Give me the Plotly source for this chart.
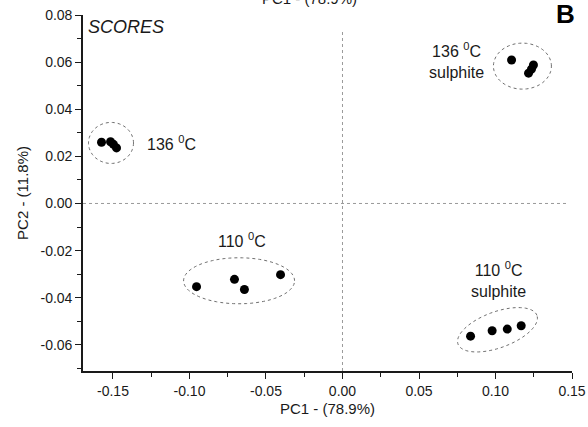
import numpy as np
import plotly.graph_objects as go

# PCA scores (PC1, PC2) for each treatment group
groups = ["136 °C", "110 °C", "136 °C sulphite", "110 °C sulphite"]
pc1_136 = [-0.1575, -0.1516, -0.1497, -0.1477]
pc2_136 = [0.0260, 0.0262, 0.0251, 0.0236]
pc1_110 = [-0.0954, -0.0706, -0.0641, -0.0405]
pc2_110 = [-0.0353, -0.0322, -0.0365, -0.0302]
pc1_136s = [0.1105, 0.1216, 0.1235, 0.1248]
pc2_136s = [0.0609, 0.0553, 0.0570, 0.0588]
pc1_110s = [0.0837, 0.0978, 0.1077, 0.1168]
pc2_110s = [-0.0563, -0.0540, -0.0533, -0.0519]

x_ticks = [-0.15, -0.10, -0.05, 0.00, 0.05, 0.10, 0.15]
x_labels = ["-0.15", "-0.10", "-0.05", "0.00", "0.05", "0.10", "0.15"]
y_ticks = [-0.06, -0.04, -0.02, 0.00, 0.02, 0.04, 0.06, 0.08]
y_labels = ["-0.06", "-0.04", "-0.02", "0.00", "0.02", "0.04", "0.06", "0.08"]
x_minor = [-0.125, -0.075, -0.025, 0.025, 0.075, 0.125]
y_minor = [-0.07, -0.05, -0.03, -0.01, 0.01, 0.03, 0.05, 0.07]

XR = [-0.1696, 0.15]
YR = [-0.0711, 0.08]
W, H = 588, 427
ML, MR, MT, MB = 83, 16, 15, 56
PW, PH = W - ML - MR, H - MT - MB
sx = PW / (XR[1] - XR[0])   # px per data unit (x)
sy = PH / (YR[1] - YR[0])   # px per data unit (y)

FONT = "Liberation Sans, Arial, sans-serif"
INK = "#1a1a1a"

fig = go.Figure()
for xs, ys in [(pc1_136, pc2_136), (pc1_110, pc2_110),
               (pc1_136s, pc2_136s), (pc1_110s, pc2_110s)]:
    fig.add_trace(go.Scatter(x=xs, y=ys, mode="markers",
                             marker=dict(color="black", size=9),
                             showlegend=False, hoverinfo="x+y"))


def ellipse_path(cx, cy, a_px, b_px, ang_deg):
    """Closed SVG path of an ellipse given in screen pixels, centred at data point."""
    t = np.linspace(0, 2 * np.pi, 80)
    th = np.radians(ang_deg)
    ex = a_px * np.cos(t)
    ey = b_px * np.sin(t)
    rx = ex * np.cos(th) - ey * np.sin(th)
    ry = ex * np.sin(th) + ey * np.cos(th)
    xs = cx + rx / sx
    ys = cy + ry / sy
    pts = [f"{x:.5f},{y:.5f}" for x, y in zip(xs, ys)]
    return "M" + " L".join(pts) + " Z"


# cluster outlines: centre (data), semi-axes (px), tilt (deg)
outlines = [
    (-0.1513, 0.0257, 22.5, 20.5, 0),
    (-0.0676, -0.0328, 55.5, 23, 0),
    (0.1176, 0.0583, 29, 23, 0),
    (0.1013, -0.0536, 42, 18, 20),
]
shapes = []
for cx, cy, a, b, ang in outlines:
    shapes.append(dict(type="path", path=ellipse_path(cx, cy, a, b, ang),
                       xref="x", yref="y",
                       line=dict(color="#6e6e6e", width=1, dash="dot")))

# dotted reference lines through the origin
shapes.append(dict(type="line", xref="x", yref="y", x0=XR[0], x1=0.147, y0=0, y1=0,
                   line=dict(color="#9a9a9a", width=1, dash="dot")))
shapes.append(dict(type="line", xref="x", yref="y", x0=0, x1=0, y0=YR[0], y1=0.0736,
                   line=dict(color="#9a9a9a", width=1, dash="dot")))

lab_font = dict(family=FONT, size=16, color=INK)
annotations = [
    dict(x=-0.1288, y=0.0258, xref="x", yref="y", text="136 <sup>0</sup>C",
         showarrow=False, xanchor="left", yanchor="middle", font=lab_font),
    dict(x=-0.0654, y=-0.0157, xref="x", yref="y", text="110 <sup>0</sup>C",
         showarrow=False, xanchor="center", yanchor="middle", font=lab_font),
    dict(x=0.0745, y=0.0605, xref="x", yref="y", text="136 <sup>0</sup>C<br>sulphite",
         showarrow=False, xanchor="center", yanchor="middle", font=lab_font),
    dict(x=0.1020, y=-0.0322, xref="x", yref="y", text="110 <sup>0</sup>C<br>sulphite",
         showarrow=False, xanchor="center", yanchor="middle", font=lab_font),
    dict(x=0.007, y=1.0, xref="paper", yref="paper", text="<i>SCORES</i>",
         showarrow=False, xanchor="left", yanchor="top",
         font=dict(family=FONT, size=18, color=INK)),
    dict(x=(565 - ML) / PW, y=1 + (MT - 14) / PH, xref="paper", yref="paper",
         text="<b>B</b>", showarrow=False, xanchor="center", yanchor="middle",
         font=dict(family=FONT, size=26, color="black")),
    # neighbouring panel titles, partly outside the page
    dict(x=(309 - ML) / PW, y=1 + (MT - 9) / PH, xref="paper", yref="paper",
         text="PC1 - (78.9%)", showarrow=False, xanchor="center", yanchor="bottom",
         font=dict(family=FONT, size=15, color=INK)),
    dict(x=(585 - ML) / PW, y=(MT + PH - 210) / PH, xref="paper", yref="paper",
         text="PC2 - (11.8%)", showarrow=False, xanchor="left", yanchor="middle",
         textangle=-90, font=dict(family=FONT, size=15, color=INK)),
]

axis_common = dict(showline=True, linecolor=INK, linewidth=1.6, ticks="outside",
                   ticklen=6, tickwidth=1.4, tickcolor=INK, showgrid=False,
                   zeroline=False, mirror=False, automargin=False,
                   tickfont=dict(family=FONT, size=14, color=INK))

fig.update_layout(
    width=W, height=H,
    margin=dict(l=ML, r=MR, t=MT, b=MB),
    paper_bgcolor="white", plot_bgcolor="white",
    shapes=shapes, annotations=annotations,
    xaxis=dict(range=XR, tickmode="array", tickvals=x_ticks, ticktext=x_labels,
               minor=dict(tickvals=x_minor, ticks="outside", ticklen=4,
                          tickwidth=1.2, tickcolor=INK),
               title=dict(text="PC1 - (78.9%)", standoff=6,
                          font=dict(family=FONT, size=15, color=INK)),
               **axis_common),
    yaxis=dict(range=YR, tickmode="array", tickvals=y_ticks, ticktext=y_labels,
               minor=dict(tickvals=y_minor, ticks="outside", ticklen=4,
                          tickwidth=1.2, tickcolor=INK),
               title=dict(text="PC2 - (11.8%)", standoff=8,
                          font=dict(family=FONT, size=15, color=INK)),
               **axis_common),
)

fig.write_html("out.html")
